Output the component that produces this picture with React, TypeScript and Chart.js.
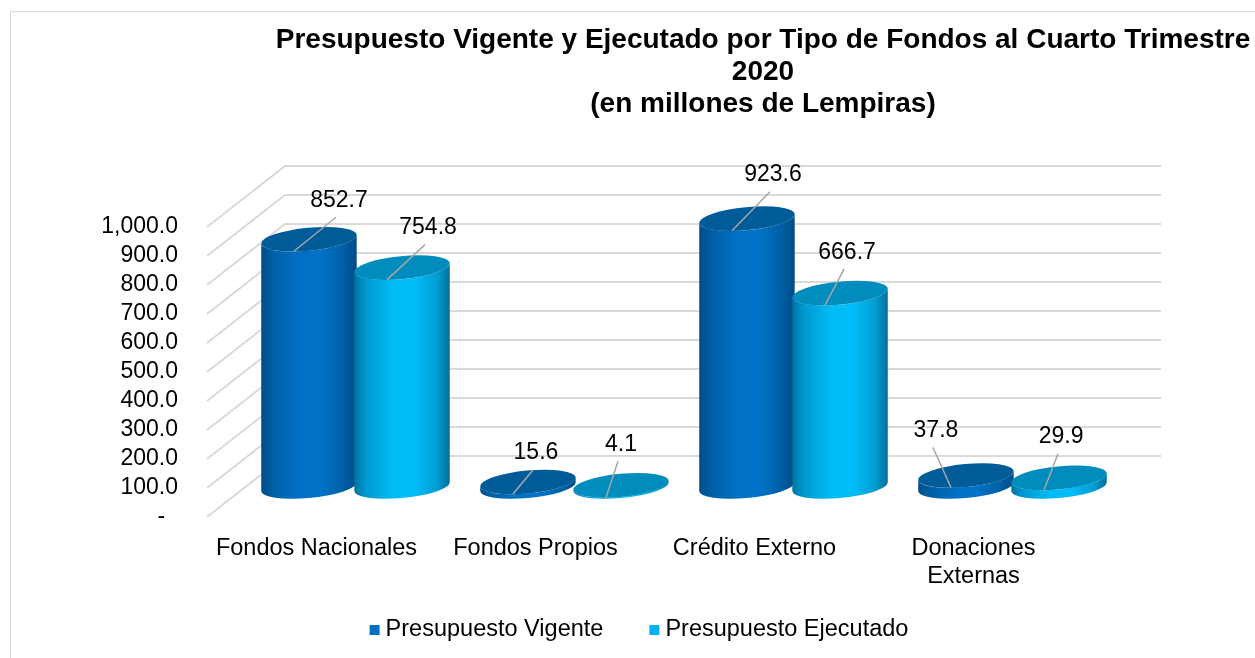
import { useEffect, useRef } from 'react';
import { Chart, registerables } from 'chart.js';

Chart.register(...registerables);

// ---------- data ----------
const categories: (string | string[])[] = [
  'Fondos Nacionales',
  'Fondos Propios',
  'Crédito Externo',
  ['Donaciones', 'Externas'],
];
const presupuestoVigente = [852.7, 15.6, 923.6, 37.8];
const presupuestoEjecutado = [754.8, 4.1, 666.7, 29.9];
const seriesNames = ['Presupuesto Vigente', 'Presupuesto Ejecutado'];
const titleLines = [
  'Presupuesto Vigente y Ejecutado por Tipo de Fondos al Cuarto Trimestre',
  '2020',
  '(en millones de Lempiras)',
];
const yMin = 0;
const yMax = 1000;
const yStep = 100;

// ---------- styling / layout ----------
const FONT = '"Liberation Sans", Arial, Helvetica, sans-serif';
const DEPTH_X = 78;
const DEPTH_Y = -61;
const legendColors = ['#0070C0', '#00B0F0'];
const palettes = [
  {
    body: [
      [0, '#004d88'],
      [0.15, '#0061a9'],
      [0.4, '#0071c5'],
      [0.62, '#0073c8'],
      [0.86, '#005fa6'],
      [1, '#004a84'],
    ] as [number, string][],
    top: '#005b99',
  },
  {
    body: [
      [0, '#00739f'],
      [0.12, '#0098cf'],
      [0.4, '#00bbf4'],
      [0.62, '#00bef8'],
      [0.86, '#009ed4'],
      [1, '#006f98'],
    ] as [number, string][],
    top: '#008cbc',
  },
];
// data-label placement relative to the top of each cylinder (dx, dy)
const labelOffsets: [number, number][][] = [
  [[30, -39], [8, -29], [26, -44], [-30, -45]],
  [[26, -40], [0, -41], [7, -41], [2, -41]],
];

function drawCylinder(
  ctx: CanvasRenderingContext2D,
  cx: number,
  yT: number,
  yB: number,
  rx: number,
  ry: number,
  rot: number,
  pal: { body: [number, string][]; top: string }
) {
  const t0 = Math.atan2(-ry * Math.sin(rot), rx * Math.cos(rot));
  ctx.save();
  const g = ctx.createLinearGradient(cx - rx, 0, cx + rx, 0);
  pal.body.forEach(([o, c]) => g.addColorStop(o, c));
  ctx.beginPath();
  ctx.ellipse(cx, yB, rx, ry, rot, t0, t0 + Math.PI, false);
  ctx.ellipse(cx, yT, rx, ry, rot, t0 + Math.PI, t0, true);
  ctx.closePath();
  ctx.fillStyle = g;
  ctx.fill();
  ctx.beginPath();
  ctx.ellipse(cx, yT, rx, ry, rot, 0, Math.PI * 2);
  ctx.fillStyle = pal.top;
  ctx.fill();
  ctx.restore();
}

const wallPlugin = {
  id: 'wall3d',
  beforeDraw(chart: any) {
    const { ctx, chartArea: a, scales } = chart;
    const y = scales.y;
    ctx.save();
    ctx.fillStyle = '#ffffff';
    ctx.fillRect(0, 0, chart.width, chart.height);
    ctx.strokeStyle = '#d9d9d9';
    ctx.lineWidth = 1;
    ctx.strokeRect(10.5, 11.5, chart.width + 40, chart.height + 40);
    ctx.lineWidth = 2;
    y.ticks.forEach((t: any) => {
      const py = y.getPixelForValue(t.value);
      ctx.beginPath();
      ctx.moveTo(a.left, py);
      ctx.lineTo(a.left + DEPTH_X, py + DEPTH_Y);
      ctx.lineTo(a.right + DEPTH_X, py + DEPTH_Y);
      ctx.stroke();
    });
    ctx.restore();
  },
};

const cylinderPlugin = {
  id: 'cylinders',
  beforeDatasetDraw() {
    return false;
  },
  afterDatasetsDraw(chart: any) {
    const ctx: CanvasRenderingContext2D = chart.ctx;
    const tops: { cx: number; yT: number; di: number; i: number; v: number }[] = [];
    chart.data.datasets.forEach((ds: any, di: number) => {
      const meta = chart.getDatasetMeta(di);
      meta.data.forEach((bar: any, i: number) => {
        const { x, y, base, width } = bar.getProps(['x', 'y', 'base', 'width'], true);
        const cx = x + DEPTH_X / 2;
        const yT = y + DEPTH_Y / 2;
        const yB = base + DEPTH_Y / 2;
        drawCylinder(ctx, cx, yT, yB, (width / 2) * 1.03, 11.5, -0.095, palettes[di]);
        tops.push({ cx, yT, di, i, v: ds.data[i] });
      });
    });
    ctx.save();
    ctx.font = `23px ${FONT}`;
    ctx.textAlign = 'center';
    ctx.textBaseline = 'middle';
    tops.forEach(({ cx, yT, di, i, v }) => {
      const [ox, oy] = labelOffsets[di][i];
      const lx = cx + ox;
      const ly = yT + oy;
      ctx.strokeStyle = '#a6a6a6';
      ctx.lineWidth = 1.5;
      ctx.beginPath();
      ctx.moveTo(cx - 15, yT + 12);
      ctx.lineTo(lx - 3, ly + 17);
      ctx.stroke();
      ctx.fillStyle = '#000000';
      ctx.fillText(v.toFixed(1), lx, ly);
    });
    ctx.restore();
  },
};

const titleLegendPlugin = {
  id: 'titleLegend',
  afterDraw(chart: any) {
    const ctx: CanvasRenderingContext2D = chart.ctx;
    ctx.save();
    // title
    ctx.font = `bold 28px ${FONT}`;
    ctx.fillStyle = '#000000';
    ctx.textAlign = 'center';
    ctx.textBaseline = 'alphabetic';
    const baselines = [48, 80, 112];
    titleLines.forEach((t, k) => ctx.fillText(t, 763, baselines[k]));
    // legend
    ctx.font = `23.5px ${FONT}`;
    ctx.textAlign = 'left';
    ctx.textBaseline = 'middle';
    const items = chart.data.datasets.map((ds: any) => ({
      text: ds.label as string,
      color: ds.backgroundColor as string,
    }));
    const box = 10;
    const gapBoxText = 6;
    const gapItems = 46;
    const widths = items.map((it: any) => box + gapBoxText + ctx.measureText(it.text).width);
    const total = widths.reduce((s: number, w: number) => s + w, 0) + gapItems * (items.length - 1);
    let x = 639 - total / 2;
    const yMid = 630;
    items.forEach((it: any, k: number) => {
      ctx.fillStyle = it.color;
      ctx.fillRect(x, yMid - 5, box, box);
      ctx.fillStyle = '#000000';
      ctx.fillText(it.text, x + box + gapBoxText, yMid);
      x += widths[k] + gapItems;
    });
    ctx.restore();
  },
};

export default function App() {
  const ref = useRef<HTMLCanvasElement | null>(null);
  useEffect(() => {
    if (!ref.current) return;
    Chart.defaults.font.family = FONT;
    Chart.defaults.color = '#000000';
    const chart = new Chart(ref.current, {
      type: 'bar',
      data: {
        labels: categories as any,
        datasets: [
          {
            label: seriesNames[0],
            data: presupuestoVigente,
            backgroundColor: legendColors[0],
            borderWidth: 0,
            categoryPercentage: 0.85,
            barPercentage: 1,
          },
          {
            label: seriesNames[1],
            data: presupuestoEjecutado,
            backgroundColor: legendColors[1],
            borderWidth: 0,
            categoryPercentage: 0.85,
            barPercentage: 1,
          },
        ],
      },
      options: {
        animation: false,
        responsive: false,
        events: [],
        layout: { padding: { left: 0, right: 172, top: 227, bottom: 68 } },
        scales: {
          x: {
            grid: { display: false },
            border: { display: false },
            ticks: { font: { size: 23.5 }, color: '#000', padding: 9, maxRotation: 0, autoSkip: false },
            afterFit: (s: any) => {
              s.height = 73;
            },
          },
          y: {
            min: yMin,
            max: yMax,
            grid: { display: false, drawTicks: false },
            border: { display: false },
            ticks: {
              stepSize: yStep,
              autoSkip: false,
              padding: 29,
              color: '#000',
              font: { size: 23 },
              callback: (v: any) =>
                Number(v) === 0
                  ? '-  '
                  : Number(v).toLocaleString('en-US', { minimumFractionDigits: 1, maximumFractionDigits: 1 }),
            },
            afterFit: (s: any) => {
              s.width = 207;
            },
          },
        },
        plugins: {
          title: { display: false },
          tooltip: { enabled: false },
          legend: { display: false },
        },
      },
      plugins: [wallPlugin, cylinderPlugin, titleLegendPlugin],
    });
    return () => chart.destroy();
  }, []);
  return (
    <div style={{ position: 'absolute', left: 0, top: 0, width: 1255, height: 658 }}>
      <canvas ref={ref} width={1255} height={658} style={{ width: 1255, height: 658, display: 'block' }} />
    </div>
  );
}
